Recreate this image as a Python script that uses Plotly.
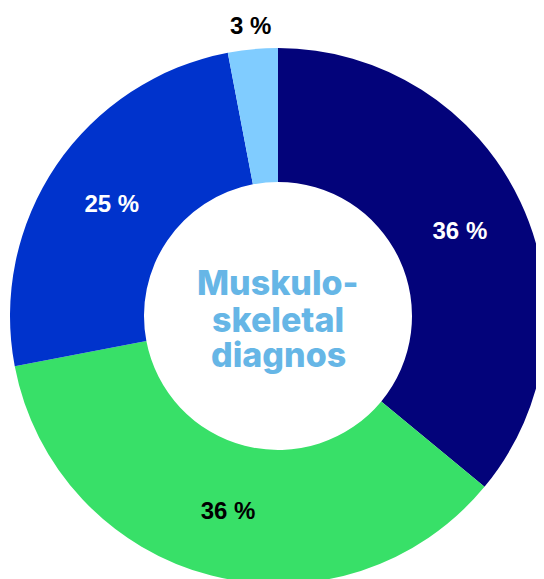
import math
import plotly.graph_objects as go

categories = ["A", "B", "C", "D"]
values = [36, 36, 25, 3]
text_labels = ["36 %", "36 %", "25 %", "3 %"]
colors = ["#03037A", "#38E068", "#0033CC", "#80CCFF"]
text_colors = ["#FFFFFF", "#000000", "#FFFFFF", "#000000"]
center_lines = ["Muskulo-", "skeletal", "diagnos"]

LABEL_FONT = "Liberation Sans, Arial, sans-serif"

# inside labels for the big slices; small slice label is placed outside via annotation
inside_text = text_labels[:3] + [""]

fig = go.Figure(go.Pie(
    labels=categories,
    values=values,
    text=inside_text,
    textinfo="text",
    textposition="inside",
    insidetextorientation="horizontal",
    insidetextfont=dict(color=text_colors, size=24, family=LABEL_FONT, weight="bold"),
    marker=dict(colors=colors, line=dict(width=0)),
    hole=0.5,
    sort=False,
    direction="clockwise",
    rotation=0,
    showlegend=False,
    hoverinfo="none",
))

# outside label of the small slice, positioned at its mid-angle
total = sum(values)
mid_frac = (sum(values[:3]) + values[3] / 2) / total
theta = 2 * math.pi * mid_frac
r_out = 0.545
fig.add_annotation(
    text=text_labels[3], xref="paper", yref="paper",
    x=0.5 + r_out * math.sin(theta), y=0.5 + r_out * math.cos(theta),
    showarrow=False, xanchor="center", yanchor="middle",
    font=dict(size=24, color="#000000", family=LABEL_FONT, weight="bold"),
)

# centre title, one annotation per line for tight line spacing
line_y = [0.563, 0.494, 0.429]
for txt, yy in zip(center_lines, line_y):
    fig.add_annotation(
        text=txt, x=0.5, y=yy, xref="paper", yref="paper",
        showarrow=False, xanchor="center", yanchor="middle",
        font=dict(size=34, color="#66B6E6", family="Inter, Roboto, sans-serif", weight=800),
    )

fig.update_layout(
    width=544, height=579,
    margin=dict(l=2, r=6, t=40, b=3),
    paper_bgcolor="white", plot_bgcolor="white",
)

fig.write_html("out.html")
